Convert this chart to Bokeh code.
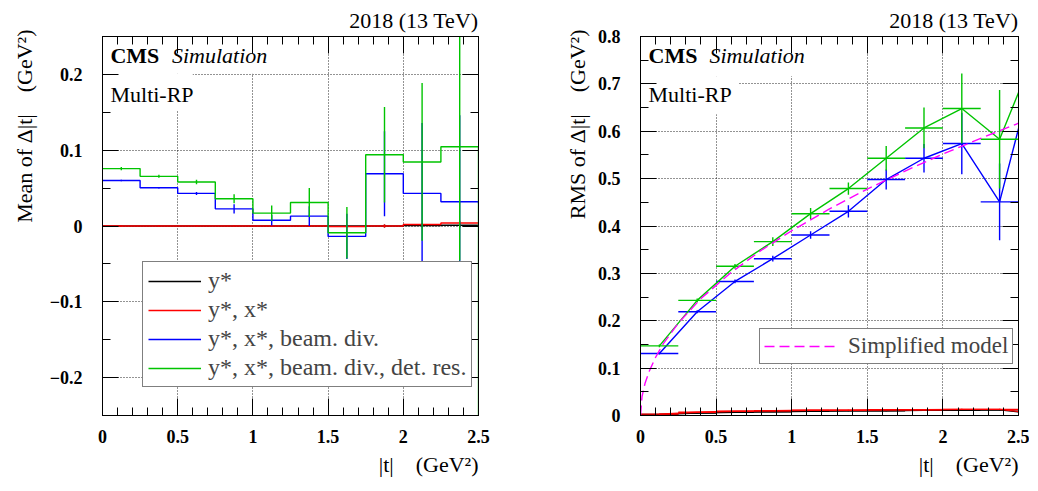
import math
from bokeh.plotting import figure
from bokeh.layouts import row
from bokeh.models import (FixedTicker, LinearAxis, Legend, LegendItem, Label, Title,
                          BoxAnnotation, Range1d, CustomJSTickFormatter)
from bokeh.embed import file_html
from bokeh.resources import INLINE

# ---------------- data ----------------
t_centers = [0.125, 0.375, 0.625, 0.875, 1.125, 1.375, 1.625, 1.875, 2.125, 2.375, 2.625]
bin_half_width = 0.125

# left panel: mean of Delta|t|
mean_black = [0.0, 0.0, 0.0, 0.0, 0.0, 0.0, 0.0, 0.0, 0.0005, 0.001, 0.001]
mean_red = [0.0, 0.0, 0.0, 0.0, 0.0, 0.0, -0.0007, 0.0, 0.002, 0.004, 0.004]
mean_blue = [0.060, 0.0505, 0.043, 0.0226, 0.0075, 0.013, -0.0137, 0.069, 0.043, 0.032, 0.030]
mean_green = [0.0757, 0.0655, 0.058, 0.036, 0.017, 0.031, -0.009, 0.094, 0.0845, 0.1045, -0.40]
mean_err_black = [0.0005, 0.0005, 0.0005, 0.0005, 0.001, 0.001, 0.001, 0.002, 0.002, 0.003, 0.003]
mean_err_red = [0.0005, 0.0005, 0.0005, 0.0005, 0.001, 0.001, 0.001, 0.002, 0.002, 0.003, 0.003]
mean_err_blue = [0.001, 0.001, 0.002, 0.006, 0.007, 0.013, 0.030, 0.056, 0.093, 0.114, 0.10]
mean_err_green = [0.002, 0.002, 0.003, 0.006, 0.010, 0.019, 0.034, 0.063, 0.104, 0.150, 0.20]

# right panel: RMS of Delta|t|
rms_black = [0.002, 0.005, 0.007, 0.008, 0.009, 0.010, 0.010, 0.011, 0.011, 0.012, 0.003]
rms_red = [0.003, 0.007, 0.009, 0.010, 0.011, 0.011, 0.012, 0.012, 0.013, 0.013, 0.004]
rms_blue = [0.131, 0.219, 0.283, 0.331, 0.381, 0.431, 0.498, 0.543, 0.574, 0.451, 0.76]
rms_green = [0.147, 0.243, 0.315, 0.367, 0.426, 0.479, 0.543, 0.607, 0.648, 0.583, 0.78]
rms_err_black = [0.0005, 0.0005, 0.0005, 0.0005, 0.0005, 0.001, 0.001, 0.001, 0.001, 0.001, 0.001]
rms_err_red = [0.0005, 0.0005, 0.0005, 0.0005, 0.0005, 0.001, 0.001, 0.001, 0.001, 0.001, 0.001]
rms_err_blue = [0.002, 0.003, 0.004, 0.006, 0.008, 0.013, 0.021, 0.030, 0.065, 0.081, 0.10]
rms_err_green = [0.003, 0.004, 0.005, 0.009, 0.012, 0.013, 0.026, 0.043, 0.074, 0.104, 0.10]

# simplified model curve
model_t = [0.0, 0.01, 0.03, 0.06, 0.1, 0.15, 0.25, 0.4, 0.6, 0.8, 1.0, 1.25, 1.5, 1.75, 2.0, 2.25, 2.5]
model_rms = [0.0, 0.04, 0.068, 0.095, 0.123, 0.151, 0.195, 0.247, 0.302, 0.349, 0.39, 0.436,
             0.478, 0.516, 0.552, 0.585, 0.617]

legend_labels = ["y*", "y*, x*", "y*, x*, beam. div.", "y*, x*, beam. div., det. res."]
series_colors = ["#000000", "#ff0000", "#0000ff", "#00c400"]

x_major = [0, 0.5, 1, 1.5, 2, 2.5]
left_y_major = [-0.2, -0.1, 0, 0.1, 0.2]
right_y_major = [0, 0.1, 0.2, 0.3, 0.4, 0.5, 0.6, 0.7, 0.8]

title_text = "2018 (13 TeV)"
x_title = "|t|\u2003(GeV\u00b2)"
left_y_title = "Mean of \u0394|t|\u2003(GeV\u00b2)"
right_y_title = "RMS of \u0394|t|\u2003(GeV\u00b2)"

SERIF = "Liberation Serif"

fmt = CustomJSTickFormatter(code="""
  if (Math.abs(tick) < 1e-9) return '0';
  const s = Math.abs(tick).toString();
  return (tick < 0 ? '\u2212' : '') + s;
""")
blank_fmt = CustomJSTickFormatter(code="return '';")


def style_axis(ax, ticker, labels, tick_major, tick_minor, standoff):
    ax.ticker = ticker
    ax.axis_line_color = "black"
    ax.major_tick_in = tick_major
    ax.major_tick_out = 0
    ax.minor_tick_in = tick_minor
    ax.minor_tick_out = 0
    ax.major_tick_line_color = "black"
    ax.minor_tick_line_color = "black"
    if labels:
        ax.formatter = fmt
        ax.major_label_text_font = SERIF
        ax.major_label_text_font_style = "bold"
        ax.major_label_text_font_size = "18px"
        ax.major_label_text_color = "black"
        ax.major_label_standoff = standoff
    else:
        ax.formatter = blank_fmt
        ax.major_label_text_font_size = "1px"
        ax.major_label_standoff = 0


def side_title(text, standoff, offset=0):
    return Title(text=text, align="right", text_font=SERIF, text_font_size="22px",
                 text_font_style="normal", text_color="black", standoff=standoff, offset=offset)


def make_fig(width, ylo, yhi, bleft, bright, ymajor, yminor, ytitle, ystandoff):
    p = figure(width=width, height=482, x_range=Range1d(0, 2.5), y_range=Range1d(ylo, yhi),
               output_backend="svg", toolbar_location=None, tools="",
               min_border_left=bleft, min_border_right=bright,
               min_border_top=36, min_border_bottom=67)
    p.outline_line_color = "black"
    p.outline_line_width = 1
    p.background_fill_color = "white"
    p.border_fill_color = "white"
    p.title = side_title(title_text, 8)
    xt = FixedTicker(ticks=x_major, minor_ticks=[round(0.1 * i, 2) for i in range(26)])
    yt = FixedTicker(ticks=ymajor, minor_ticks=yminor)
    style_axis(p.xaxis[0], xt, True, 17, 8, 14)
    style_axis(p.yaxis[0], yt, True, 16, 8, 20)
    top = LinearAxis()
    style_axis(top, xt, False, 17, 8, 0)
    p.add_layout(top, "above")
    rgt = LinearAxis()
    style_axis(rgt, yt, False, 16, 8, 0)
    p.add_layout(rgt, "right")
    p.add_layout(side_title(x_title, 8), "below")
    p.add_layout(side_title(ytitle, ystandoff, -7), "left")
    p.xgrid.ticker = xt
    p.ygrid.ticker = yt
    p.grid.grid_line_color = "black"
    p.grid.grid_line_alpha = 0.85
    p.grid.grid_line_dash = "1 2"
    p.grid.grid_line_width = 1
    return p


def add_text(p, x, y, text, style="normal"):
    p.add_layout(Label(x=x, y=y, text=text, text_font=SERIF, text_font_size="22px",
                       text_font_style=style, text_align="left", text_baseline="middle",
                       text_color="black"))


def white_box(p, l, r, b, t):
    p.add_layout(BoxAnnotation(left=l, right=r, bottom=b, top=t, fill_color="white",
                               fill_alpha=1.0, line_color=None, level="underlay"))


def style_legend(leg, size, glyph_w, standoff, padding, spacing):
    leg.label_text_font = SERIF
    leg.label_text_font_size = size
    leg.glyph_width = glyph_w
    leg.glyph_height = 20
    leg.label_standoff = standoff
    leg.padding = padding
    leg.spacing = spacing
    leg.margin = 0
    leg.border_line_color = "black"
    leg.border_line_width = 1
    leg.background_fill_alpha = 1.0


# ---------------- left panel ----------------
p1 = make_fig(539, -0.25, 0.25, 99, 61, left_y_major,
              [round(-0.25 + 0.05 * i, 3) for i in range(11)],
              left_y_title, 19)
white_box(p1, 0.005, 1.3, 0.201, 0.249)
white_box(p1, 0.005, 0.6, 0.152, 0.201)

edges = [c - bin_half_width for c in t_centers] + [t_centers[-1] + bin_half_width]
left_series = [(mean_black, mean_err_black), (mean_red, mean_err_red),
               (mean_blue, mean_err_blue), (mean_green, mean_err_green)]
left_renderers = []
for (vals, errs), col in zip(left_series, series_colors):
    r = p1.step(edges, vals + [vals[-1]], mode="after", line_color=col, line_width=1.4)
    p1.segment(x0=t_centers, y0=[v - e for v, e in zip(vals, errs)],
               x1=t_centers, y1=[v + e for v, e in zip(vals, errs)],
               line_color=col, line_width=1.4)
    left_renderers.append(r)

leg1 = Legend(items=[LegendItem(label=lab, renderers=[r]) for lab, r in zip(legend_labels, left_renderers)],
              location=(40, 28))
style_legend(leg1, "24px", 53, 7, 5, 2)
p1.add_layout(leg1)

add_text(p1, 0.053, 0.225, "CMS", style="bold")
add_text(p1, 0.462, 0.225, "Simulation", style="italic")
add_text(p1, 0.053, 0.1735, "Multi-RP")

# ---------------- right panel ----------------
p2 = make_fig(490, 0.0, 0.8, 101, 11, right_y_major,
              [round(0.05 * i, 3) for i in range(17)],
              right_y_title, 9)
white_box(p2, 0.005, 1.3, 0.716, 0.798)
white_box(p2, 0.005, 0.65, 0.636, 0.716)

right_series = [(rms_black, rms_err_black), (rms_red, rms_err_red),
                (rms_blue, rms_err_blue), (rms_green, rms_err_green)]
for (vals, errs), col in zip(right_series, series_colors):
    p2.line(t_centers, vals, line_color=col, line_width=1.4)
    p2.segment(x0=[c - bin_half_width for c in t_centers], y0=vals,
               x1=[c + bin_half_width for c in t_centers], y1=vals,
               line_color=col, line_width=1.4)
    p2.segment(x0=t_centers, y0=[v - e for v, e in zip(vals, errs)],
               x1=t_centers, y1=[v + e for v, e in zip(vals, errs)],
               line_color=col, line_width=1.4)

r_model = p2.line(model_t, model_rms, line_color="#ff00ff", line_dash="10 5", line_width=1.4)

leg2 = Legend(items=[LegendItem(label="Simplified model", renderers=[r_model])],
              location=(119, 51))
style_legend(leg2, "23px", 75, 9, 4, 0)
p2.add_layout(leg2)

add_text(p2, 0.053, 0.76, "CMS", style="bold")
add_text(p2, 0.456, 0.76, "Simulation", style="italic")
add_text(p2, 0.053, 0.6776, "Multi-RP")

layout = row(p1, p2)
open("out.html", "w").write(file_html(layout, INLINE))
